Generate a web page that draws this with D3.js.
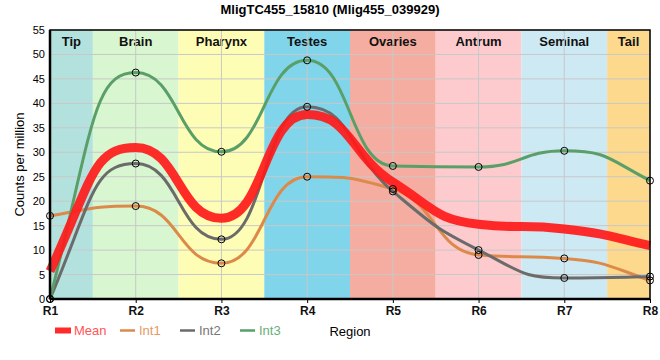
<!DOCTYPE html>
<html><head><meta charset="utf-8">
<script src="https://cdn.jsdelivr.net/npm/d3@7"></script>
<style>body{margin:0;background:#fff}svg{display:block;font-family:"Liberation Sans",Arial,sans-serif}</style>
</head><body><svg id="c" width="660" height="360"></svg>
<script>
const regions = ["R1","R2","R3","R4","R5","R6","R7","R8"];
const bandNames = ["Tip","Brain","Pharynx","Testes","Ovaries","Antrum","Seminal","Tail"];
const bandColors = ["#b3e2de","#d8f6cf","#fefdb5","#80d5eb","#f5ada1","#fdcbcd","#cde9f3","#fcd98d"];
const int1 = [17, 19, 7.3, 25, 22.5, 9, 8.3, 3.8];
const int2 = [0, 27.7, 12.2, 39.3, 22, 10, 4.3, 4.6];
const int3 = [0, 46.3, 30.1, 48.8, 27.2, 27.0, 30.3, 24.2];
const meanVals = [5.7, 31, 16.5, 37.7, 23.9, 15.3, 14.3, 10.9];
const yTicks = d3.range(0, 56, 5);

// custom d3 curve: monotone slopes, bezier handles at half the interval
function sgn(v){return v<0?-1:1;}
function HalfMono(context){this._context=context;}
HalfMono.prototype = {
  areaStart(){this._line=0;}, areaEnd(){this._line=NaN;},
  lineStart(){this._xs=[];this._ys=[];},
  point(x,y){this._xs.push(+x);this._ys.push(+y);},
  lineEnd(){
    const X=this._xs,Y=this._ys,n=X.length,c=this._context;
    if(!n) return;
    c.moveTo(X[0],Y[0]);
    if(n===1) return;
    const t=new Array(n).fill(0);
    for(let i=1;i<n-1;i++){
      const h0=X[i]-X[i-1],h1=X[i+1]-X[i];
      const s0=(Y[i]-Y[i-1])/h0,s1=(Y[i+1]-Y[i])/h1;
      const p=(s0*h1+s1*h0)/(h0+h1);
      t[i]=(sgn(s0)+sgn(s1))*Math.min(Math.abs(s0),Math.abs(s1),0.5*Math.abs(p))||0;
    }
    if(n>2){
      t[0]=(3*(Y[1]-Y[0])/(X[1]-X[0])-t[1])/2;
      t[n-1]=(3*(Y[n-1]-Y[n-2])/(X[n-1]-X[n-2])-t[n-2])/2;
    } else { t[0]=t[1]=(Y[1]-Y[0])/(X[1]-X[0]); }
    const k=0.5;
    for(let i=0;i<n-1;i++){
      const h=(X[i+1]-X[i])*k;
      c.bezierCurveTo(X[i]+h,Y[i]+h*t[i],X[i+1]-h,Y[i+1]-h*t[i+1],X[i+1],Y[i+1]);
    }
  }
};
const curveHalfMono = ctx => new HalfMono(ctx);

const svg = d3.select("#c");
const m = {l:50, r:10, t:30, b:61};
const W = 660, H = 360;
const x = d3.scalePoint().domain(regions).range([m.l, W - m.r]);
const y = d3.scaleLinear().domain([0,55]).range([H - m.b, m.t]);
const step = x.step();

// bands
bandNames.forEach((b,i)=>{
  const x0 = Math.max(m.l, x(regions[i]) - step/2);
  const x1 = Math.min(W - m.r, x(regions[i]) + step/2);
  svg.append("rect").attr("x",x0).attr("y",m.t).attr("width",x1-x0).attr("height",y(0)-m.t).attr("fill",bandColors[i]);
  svg.append("text").attr("x",(x0+x1)/2).attr("y",m.t+16).attr("text-anchor","middle")
    .attr("font-size",13).attr("font-weight","bold").attr("fill","#111").text(b);
});

// grid
svg.append("g").selectAll("line").data(yTicks).join("line")
  .attr("x1",m.l).attr("x2",W-m.r).attr("y1",d=>y(d)).attr("y2",d=>y(d))
  .attr("stroke","#c8c8c8").attr("stroke-width",1);
svg.append("g").selectAll("line").data(regions).join("line")
  .attr("x1",d=>x(d)).attr("x2",d=>x(d)).attr("y1",m.t).attr("y2",y(0))
  .attr("stroke","#c8c8c8").attr("stroke-width",1);

// lines
const line = d3.line().x((d,i)=>x(regions[i])).y(d=>y(d)).curve(curveHalfMono);
const series = [
  {name:"Int1", vals:int1, color:"#dc8a4a", w:3},
  {name:"Int2", vals:int2, color:"#6b6b6b", w:3},
  {name:"Int3", vals:int3, color:"#5a9f68", w:3},
];
series.forEach(s=>{
  svg.append("path").attr("d",line(s.vals)).attr("fill","none").attr("stroke",s.color).attr("stroke-width",s.w);
});
svg.append("path").attr("d",line(meanVals)).attr("fill","none").attr("stroke","#ff1a1a").attr("stroke-opacity",0.92).attr("stroke-width",9);
series.forEach(s=>{
  svg.append("g").selectAll("circle").data(s.vals).join("circle")
    .attr("cx",(d,i)=>x(regions[i])).attr("cy",d=>y(d)).attr("r",3.5)
    .attr("fill","none").attr("stroke","#000").attr("stroke-width",1);
});

// frame
svg.append("rect").attr("x",m.l).attr("y",m.t).attr("width",W-m.r-m.l).attr("height",y(0)-m.t)
  .attr("fill","none").attr("stroke","#000").attr("stroke-width",1.5);
svg.append("line").attr("x1",m.l).attr("x2",W-m.r).attr("y1",y(0)).attr("y2",y(0)).attr("stroke","#000").attr("stroke-width",2.5);
svg.append("line").attr("x1",m.l).attr("x2",m.l).attr("y1",m.t).attr("y2",y(0)).attr("stroke","#000").attr("stroke-width",2.5);

// axes
const ya = svg.append("g").attr("transform",`translate(${m.l},0)`)
  .call(d3.axisLeft(y).tickValues(yTicks).tickSize(0).tickPadding(5));
ya.select(".domain").remove();
ya.selectAll("text").attr("font-size",11).attr("fill","#000").attr("font-family","Liberation Sans, Arial");
const xa = svg.append("g").attr("transform",`translate(0,${y(0)})`)
  .call(d3.axisBottom(x).tickSize(4));
xa.select(".domain").remove();
xa.selectAll("text").attr("font-size",12).attr("font-weight","bold").attr("fill","#111").attr("font-family","Liberation Sans, Arial");

// titles
svg.append("text").attr("x",330).attr("y",14).attr("text-anchor","middle").attr("font-size",13).attr("font-weight","bold").text("MligTC455_15810 (Mlig455_039929)");
svg.append("text").attr("transform",`translate(24,${(m.t+y(0))/2}) rotate(-90)`).attr("text-anchor","middle").attr("font-size",13).text("Counts per million");
svg.append("text").attr("x",350).attr("y",336).attr("text-anchor","middle").attr("font-size",13).text("Region");

// legend
const leg = [
  {name:"Mean", color:"#ff2a2a", tc:"#f55", thick:true, x:55},
  {name:"Int1", color:"#dc8a4a", tc:"#e39a66", x:120},
  {name:"Int2", color:"#6b6b6b", tc:"#777", x:180},
  {name:"Int3", color:"#5a9f68", tc:"#6aae78", x:240},
];
leg.forEach(l=>{
  if(l.thick) svg.append("rect").attr("x",l.x).attr("y",327.5).attr("width",16).attr("height",6).attr("fill",l.color);
  else svg.append("line").attr("x1",l.x).attr("x2",l.x+15).attr("y1",330.5).attr("y2",330.5).attr("stroke",l.color).attr("stroke-width",2.5);
  svg.append("text").attr("x",l.x+19).attr("y",335).attr("font-size",13).attr("fill",l.tc).text(l.name);
});
</script></body></html>
